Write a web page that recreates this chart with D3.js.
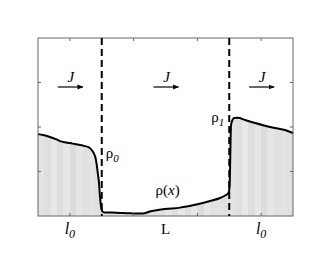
<!DOCTYPE html>
<html>
<head>
<meta charset="utf-8">
<script src="https://cdn.jsdelivr.net/npm/d3@7"></script>
<style>
  body { margin: 0; background: #fff; }
  text { font-family: "Liberation Serif", "DejaVu Serif", serif; fill: #000; }
</style>
</head>
<body>
<div class="app"></div>
<script>
'use strict'

// профиль плотности rho(x), x в долях длины системы
var xs = [0, 0.02, 0.047, 0.07, 0.086, 0.105, 0.125, 0.145, 0.165, 0.18, 0.196, 0.205, 0.212, 0.219, 0.224, 0.228, 0.231, 0.235, 0.239, 0.243, 0.247, 0.251, 0.255,
          0.263, 0.29, 0.322, 0.35, 0.38, 0.412, 0.425, 0.435, 0.459, 0.498, 0.557, 0.616, 0.675, 0.714, 0.737, 0.745, 0.749, 0.752,
          0.757, 0.763, 0.769, 0.784, 0.812, 0.851, 0.890, 0.929, 0.969, 1.0];
var rho = [0.46, 0.455, 0.444, 0.432, 0.421, 0.414, 0.41, 0.404, 0.399, 0.394, 0.388, 0.38, 0.368, 0.352, 0.335, 0.31, 0.28, 0.235, 0.19, 0.11, 0.055, 0.03, 0.022,
           0.02, 0.019, 0.017, 0.016, 0.014, 0.014, 0.018, 0.024, 0.031, 0.039, 0.047, 0.063, 0.084, 0.101, 0.118, 0.126, 0.137, 0.2,
           0.511, 0.54, 0.551, 0.552, 0.539, 0.522, 0.507, 0.494, 0.483, 0.466];

// границы участков
var bounds = [0.25, 0.75];
// деления осей
var xTicks = [0.125, 0.375, 0.625, 0.875];
var yTicks = [0.25, 0.5, 0.75];
// подписи
var topLabels = [0.125, 0.5, 0.875];
var bottomLabels = [{ x: 0.125, t: "l", s: "0" }, { x: 0.5, t: "L", s: "" }, { x: 0.875, t: "l", s: "0" }];

var data = xs.map((x, i) => ({ x: x, y: rho[i] }));

var margin = { top: 38, right: 37, bottom: 39, left: 38 };
var width = 330 - margin.left - margin.right;
var height = 255 - margin.top - margin.bottom;

var xScale = d3.scaleLinear().domain([0, 1]).range([0, width]);
var yScale = d3.scaleLinear().domain([0, 1]).range([height, 0]);

var svg = d3.select(".app").append("svg")
  .attr("width", 330).attr("height", 255);

// полосатая серая заливка
var shades = ["#e4e4e4", "#dedede", "#e6e6e6", "#e0e0e0", "#e8e8e8", "#dcdcdc", "#e3e3e3", "#dfdfdf", "#e7e7e7", "#e1e1e1"];
var grad = svg.append("defs").append("linearGradient")
  .attr("id", "stripes")
  .attr("gradientUnits", "userSpaceOnUse")
  .attr("x1", 0).attr("x2", width).attr("y1", 0).attr("y2", 0);
var nStripes = 40;
d3.range(nStripes).forEach(function(i) {
  var c = shades[(i * 7) % shades.length];
  grad.append("stop").attr("offset", i / nStripes).attr("stop-color", c);
  grad.append("stop").attr("offset", (i + 1) / nStripes).attr("stop-color", c);
});

var g = svg.append("g")
  .attr("transform", "translate(" + margin.left + "," + margin.top + ")");

var area = d3.area()
  .curve(d3.curveMonotoneX)
  .x(d => xScale(d.x))
  .y0(height)
  .y1(d => yScale(d.y));

var line = d3.line()
  .curve(d3.curveMonotoneX)
  .x(d => xScale(d.x))
  .y(d => yScale(d.y));

g.append("path")
  .attr("d", area(data))
  .attr("fill", "url(#stripes)");

g.append("path")
  .attr("d", line(data))
  .attr("fill", "none")
  .attr("stroke", "#000")
  .attr("stroke-width", 2);

// рамка
g.append("rect")
  .attr("width", width).attr("height", height)
  .attr("fill", "none")
  .attr("stroke", "#666")
  .attr("stroke-width", 1);

// деления внутрь
var tickLen = 3;
xTicks.forEach(function(t) {
  [[0, tickLen], [height, height - tickLen]].forEach(function(p) {
    g.append("line")
      .attr("x1", xScale(t)).attr("x2", xScale(t))
      .attr("y1", p[0]).attr("y2", p[1])
      .attr("stroke", "#666");
  });
});
yTicks.forEach(function(t) {
  [[0, tickLen], [width, width - tickLen]].forEach(function(p) {
    g.append("line")
      .attr("y1", yScale(t)).attr("y2", yScale(t))
      .attr("x1", p[0]).attr("x2", p[1])
      .attr("stroke", "#666");
  });
});

// пунктирные границы
bounds.forEach(function(b) {
  g.append("line")
    .attr("x1", xScale(b)).attr("x2", xScale(b))
    .attr("y1", 0).attr("y2", height)
    .attr("stroke", "#000")
    .attr("stroke-width", 2)
    .attr("stroke-dasharray", "7,4");
});

// стрелки J
svg.append("defs").append("marker")
  .attr("id", "arrow")
  .attr("viewBox", "0 0 10 10")
  .attr("refX", 9).attr("refY", 5)
  .attr("markerWidth", 6).attr("markerHeight", 6)
  .attr("markerUnits", "userSpaceOnUse")
  .attr("orient", "auto")
  .append("path").attr("d", "M0,1 L10,5 L0,9 Z").attr("fill", "#000");

topLabels.forEach(function(t) {
  var cx = xScale(t);
  g.append("line")
    .attr("x1", cx - 12).attr("x2", cx + 13)
    .attr("y1", 49).attr("y2", 49)
    .attr("stroke", "#000").attr("stroke-width", 1.2)
    .attr("marker-end", "url(#arrow)");
  g.append("text")
    .attr("x", cx + 1).attr("y", 44)
    .attr("text-anchor", "middle")
    .attr("font-size", 15)
    .attr("font-style", "italic")
    .text("J");
});

// подписи плотности
function rhoLabel(x, y, sub) {
  var t = g.append("text").attr("x", x).attr("y", y).attr("font-size", 15);
  t.append("tspan").text("ρ");
  t.append("tspan").attr("font-style", "italic").attr("font-size", 11).attr("dy", 4).text(sub);
}
rhoLabel(xScale(0.25) + 4, 120, "0");
rhoLabel(xScale(0.75) - 18, 84, "1");

var rx = g.append("text").attr("x", xScale(0.5) - 10).attr("y", 157).attr("font-size", 15);
rx.append("tspan").text("ρ(");
rx.append("tspan").attr("font-style", "italic").text("x");
rx.append("tspan").text(")");

// подписи снизу
bottomLabels.forEach(function(d) {
  var t = g.append("text")
    .attr("x", xScale(d.x))
    .attr("y", height + 18)
    .attr("text-anchor", "middle")
    .attr("font-size", 16);
  if (d.s) {
    t.append("tspan").attr("font-style", "italic").text(d.t);
    t.append("tspan").attr("font-style", "italic").attr("font-size", 12).attr("dy", 4).text(d.s);
  } else {
    t.attr("font-size", 15).text(d.t);
  }
});
</script>
</body>
</html>
